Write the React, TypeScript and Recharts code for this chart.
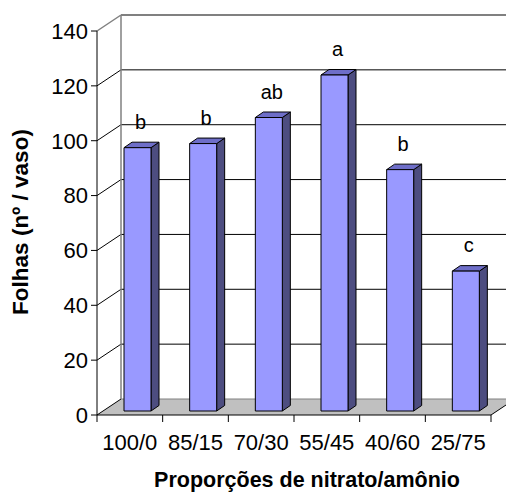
import { Bar, BarChart, CartesianGrid, LabelList, XAxis, YAxis } from "recharts";

const categories = ["100/0", "85/15", "70/30", "55/45", "40/60", "25/75"];
const folhas = [96, 97.5, 107, 122.5, 88, 51];
const letras = ["b", "b", "ab", "a", "b", "c"];
const yTicks = [0, 20, 40, 60, 80, 100, 120, 140];

const data = categories.map((name, i) => ({ name, folhas: folhas[i], letra: letras[i] }));

const W = 506;
const H = 499;
const PLOT = { left: 97, right: 491, top: 31, bottom: 415 };
const DEPTH = { x: 24, y: 16 }; // depth of the side wall / floor
const BAR_OFF = { x: 8, y: 4 }; // bars stand a little behind the front axis
const BAR_SIDE = { x: 8, y: 5.5 };
const BAND = (PLOT.right - PLOT.left) / categories.length;

const FONT = '"Liberation Sans", Arial, sans-serif';
const WALL_EDGE = "#808080";

// each horizontal grid line becomes a slanted line on the side wall
// plus a line across the back wall; the bottom one is the floor
function WallLine(props: any) {
  const { x1, y1, index } = props;
  const bx = x1 + DEPTH.x;
  const by = y1 - DEPTH.y;
  if (Math.abs(y1 - PLOT.bottom) < 1) {
    const rx = PLOT.right;
    const clipY = PLOT.bottom - ((W - rx) * DEPTH.y) / DEPTH.x;
    return (
      <g key={`wall-${index}`}>
        <polygon
          points={`${x1},${y1} ${rx},${y1} ${W},${clipY} ${W},${by} ${bx},${by}`}
          fill="#C0C0C0"
          stroke="none"
        />
        <line x1={bx} y1={by} x2={W} y2={by} stroke={WALL_EDGE} />
        <line x1={rx} y1={y1} x2={W} y2={clipY} stroke="#000" />
        <line x1={x1} y1={y1} x2={bx} y2={by} stroke="#000" />
      </g>
    );
  }
  if (Math.abs(y1 - PLOT.top) < 1) {
    return (
      <g key={`wall-${index}`}>
        <line x1={bx} y1={by} x2={bx} y2={PLOT.bottom - DEPTH.y} stroke={WALL_EDGE} strokeWidth={1.5} />
        <line x1={x1} y1={y1} x2={bx} y2={by} stroke={WALL_EDGE} strokeWidth={1.5} />
        <line x1={bx} y1={by} x2={W} y2={by} stroke={WALL_EDGE} strokeWidth={2} />
      </g>
    );
  }
  return (
    <g key={`wall-${index}`}>
      <line x1={x1} y1={y1} x2={bx} y2={by} stroke="#000" />
      <line x1={bx} y1={by} x2={W} y2={by} stroke="#000" />
    </g>
  );
}

function Bar3D(props: any) {
  const { x, y, width, height } = props;
  const fx = x + BAR_OFF.x;
  const fy = y - BAR_OFF.y;
  const sx = BAR_SIDE.x;
  const sy = BAR_SIDE.y;
  const r = fx + width;
  return (
    <g stroke="#000" strokeWidth={1} strokeLinejoin="round">
      <polygon
        points={`${r},${fy} ${r + sx},${fy - sy} ${r + sx},${fy + height - sy} ${r},${fy + height}`}
        fill="#4D4D80"
      />
      <polygon
        points={`${fx},${fy} ${fx + sx},${fy - sy} ${r + sx},${fy - sy} ${r},${fy}`}
        fill="#6E6EC8"
      />
      <rect x={fx} y={fy} width={width} height={height} fill="#9999FF" />
    </g>
  );
}

function Letter(props: any) {
  const { x, y, width, value } = props;
  return (
    <text
      x={x + width / 2 + BAR_OFF.x + 3}
      y={y - BAR_OFF.y - 19}
      textAnchor="middle"
      fontFamily={FONT}
      fontSize={20}
      fill="#000"
    >
      {value}
    </text>
  );
}

function CategoryTick(props: any) {
  const { x, payload, index } = props;
  const left = x - BAND / 2;
  return (
    <g>
      <line x1={left} y1={PLOT.bottom} x2={left} y2={PLOT.bottom + 7} stroke="#000" />
      {index === categories.length - 1 && (
        <line x1={x + BAND / 2} y1={PLOT.bottom} x2={x + BAND / 2} y2={PLOT.bottom + 7} stroke="#000" />
      )}
      <text x={x} y={PLOT.bottom + 35} textAnchor="middle" fontFamily={FONT} fontSize={22} fill="#000">
        {payload.value}
      </text>
    </g>
  );
}

function YTitle() {
  return (
    <text
      transform="rotate(-90)"
      x={-222}
      y={28}
      textAnchor="middle"
      fontFamily={FONT}
      fontSize={22.5}
      fontWeight="bold"
      fill="#000"
    >
      Folhas (nº / vaso)
    </text>
  );
}

function XTitle() {
  return (
    <text x={307} y={487} textAnchor="middle" fontFamily={FONT} fontSize={21.5} fontWeight="bold" fill="#000">
      Proporções de nitrato/amônio
    </text>
  );
}

export default function App() {
  return (
    <div style={{ position: "absolute", left: 0, top: 0, width: W, height: H, background: "#fff" }}>
      <BarChart
        width={W}
        height={H}
        data={data}
        margin={{ top: PLOT.top, right: W - PLOT.right, bottom: 0, left: 0 }}
        barSize={27}
      >
        <CartesianGrid horizontal={WallLine} vertical={false} />
        <XAxis
          dataKey="name"
          height={H - PLOT.bottom}
          interval={0}
          axisLine={{ stroke: "#000" }}
          tickLine={false}
          tick={CategoryTick}
          label={XTitle}
        />
        <YAxis
          width={PLOT.left}
          domain={[0, 140]}
          ticks={yTicks}
          interval={0}
          tickSize={6}
          tickMargin={3}
          axisLine={{ stroke: "#000" }}
          tickLine={{ stroke: "#000" }}
          tick={{ fill: "#000", fontSize: 22, fontFamily: FONT }}
          label={YTitle}
        />
        <Bar dataKey="folhas" shape={Bar3D} isAnimationActive={false}>
          <LabelList dataKey="letra" content={Letter} />
        </Bar>
      </BarChart>
    </div>
  );
}
